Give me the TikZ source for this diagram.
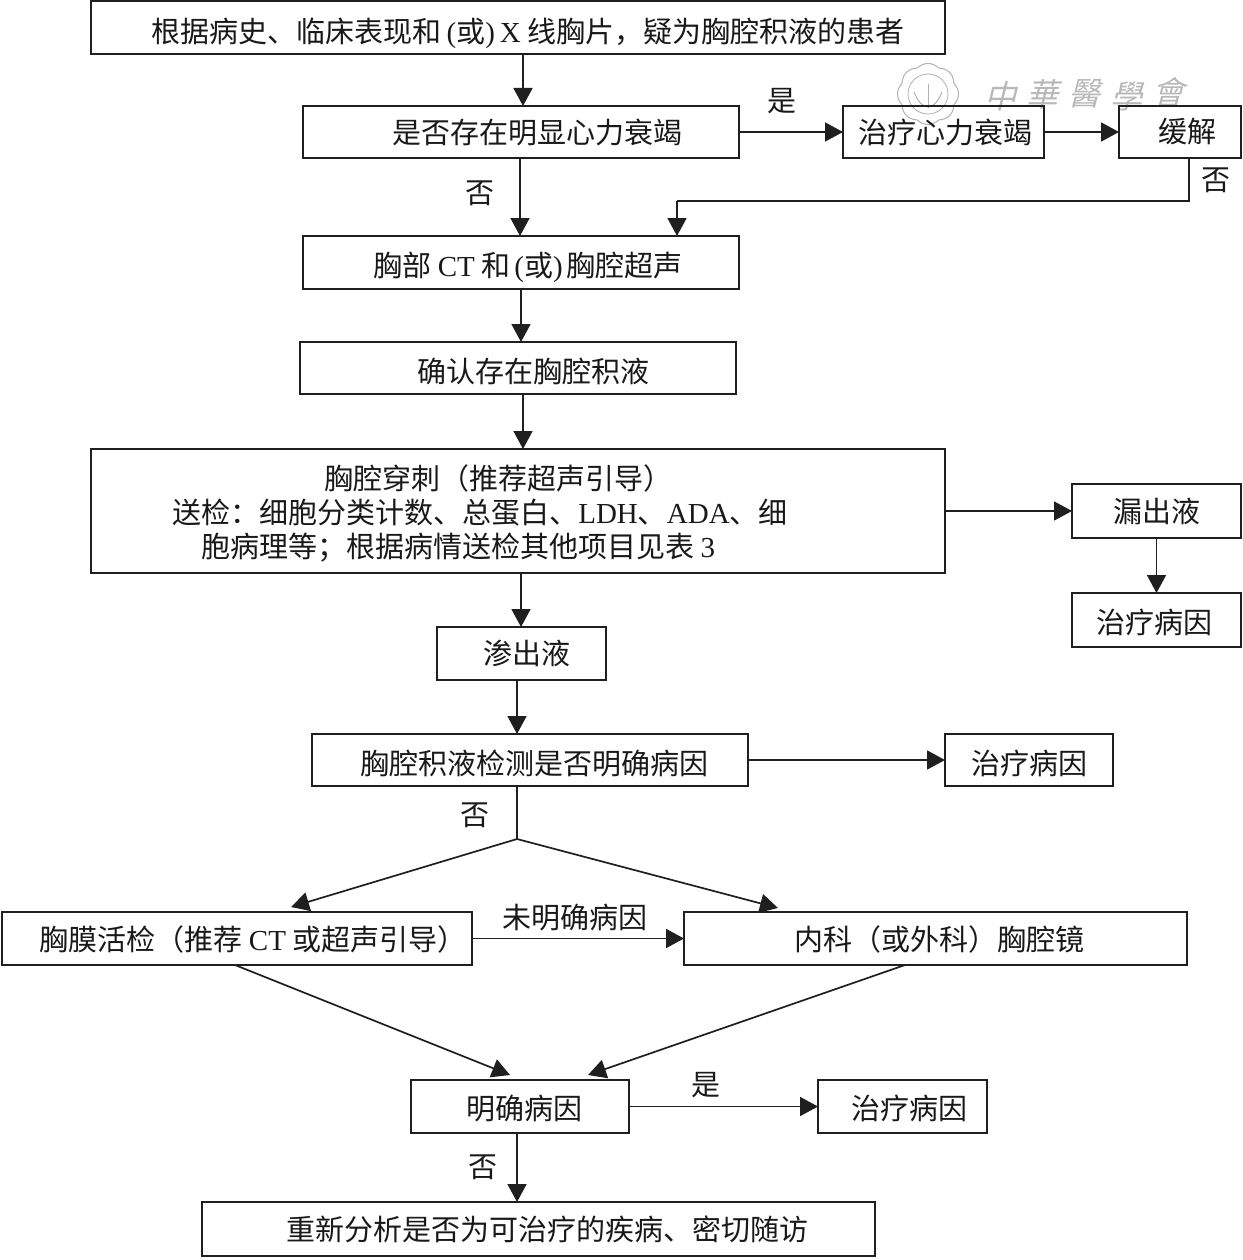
\documentclass[tikz,border=0pt]{standalone}
\usepackage{fontspec}
\setmainfont{Noto Sans CJK SC}
\newfontfamily\latf{Liberation Serif}
\newfontfamily\wmf[FakeSlant=0.25]{Noto Sans CJK SC}
\newcommand{\lat}[1]{{\latf #1}}
\usetikzlibrary{arrows.meta}
\tikzset{
  x=1pt,y=-1pt,
  every node/.style={inner sep=0pt,outer sep=0pt,font=\fontsize{29}{32}\selectfont,text=black!90},
  boxn/.style={draw=black!88,line width=1.7pt,anchor=center},
  lbl/.style={anchor=center},
  con/.style={draw=black!88,line width=1.7pt},
  arr/.style={con,-{Triangle[length=18pt,width=19pt]}},
  wm/.style={text=black!28,font=\wmf\fontsize{32}{32}\selectfont},
  wmline/.style={draw=black!30,line width=1pt}
}
% [text dy], name, x1, y1, x2, y2, text dx (doubled), text
\newcommand{\bx}[8][0]{%
  \pgfmathsetmacro{\bxw}{#5-#3}\pgfmathsetmacro{\bxh}{#6-#4}%
  \pgfmathsetmacro{\bxd}{11+#1}%
  \node[boxn,minimum width=\bxw pt,minimum height=\bxh pt] (#2) at ({(#3+#5)/2},{(#4+#6)/2}) {\hspace*{#7pt}\raisebox{-\bxd pt}[0pt][0pt]{#8}};%
}
\begin{document}
\begin{tikzpicture}
\useasboundingbox (0,0) rectangle (1242,1260);
\fill[white] (0,0) rectangle (1242,1260);
% watermark
\draw[wmline] plot[domain=0:360,samples=160,smooth cycle] ({928+(28+2.5*abs(cos(4*\x)))*cos(\x)},{94+(28+2.5*abs(cos(4*\x)))*sin(\x)});
\node[draw=black!30,line width=.8pt,circle,minimum size=40pt] (logoin) at (928,94) {};
\draw[wmline] (914,92) .. controls (922,112) and (934,112) .. (942,92);
\draw[wmline] (928,84) -- (928,108);
\node[wm,lbl] (wm1) at (1000,96) {中};
\node[wm,lbl] (wm2) at (1042,94) {華};
\node[wm,lbl] (wm3) at (1084,94) {醫};
\node[wm,lbl] (wm4) at (1126,96) {學};
\node[wm,lbl] (wm5) at (1168,92) {會};
% boxes
\bx[4.5]{top}{91}{1}{945}{54}{20}{根据病史、临床表现和\hspace{5pt}\lat{(}或\lat{)}\hspace{5pt}\lat{X} 线胸片，疑为胸腔积液的患者}
\bx[1]{hfq}{303}{106}{739}{158}{32}{是否存在明显心力衰竭}
\bx[1]{hf}{843}{106}{1044}{158}{3}{治疗心力衰竭}
\bx{rel}{1119}{106}{1241}{158}{14}{缓解}
\bx[2.5]{ct}{303}{236}{739}{289}{14}{胸部 \lat{CT} 和\hspace{4pt}\lat{(}或\lat{)}\hspace{4pt}胸腔超声}
\bx[3]{conf}{300}{342}{736}{394}{30}{确认存在胸腔积液}
\node[boxn,minimum width=854pt,minimum height=124pt] (punct) at (518,511) {};
\node[lbl] (p1) at (498,478) {胸腔穿刺（推荐超声引导）};
\node[lbl] (p2) at (480,513) {送检：细胞分类计数、总蛋白、\lat{LDH}、\lat{ADA}、细};
\node[lbl] (p3) at (458,548) {胞病理等；根据病情送检其他项目见表 \lat{3}};
\bx{leak}{1072}{484}{1241}{538}{0}{漏出液}
\bx[2]{tr1}{1072}{593}{1241}{647}{-4}{治疗病因}
\bx{exud}{437}{627}{606}{680}{10}{渗出液}
\bx[3]{det}{312}{734}{748}{786}{8}{胸腔积液检测是否明确病因}
\bx[3]{tr2}{945}{734}{1113}{786}{0}{治疗病因}
\bx[1]{bio}{2}{912}{472}{965}{32}{胸膜活检（推荐 \lat{CT} 或超声引导）}
\bx[1]{scope}{684}{912}{1187}{965}{8}{内科（或外科）胸腔镜}
\bx[2]{clear}{411}{1080}{629}{1133}{8}{明确病因}
\bx[2]{tr3}{818}{1080}{987}{1133}{14}{治疗病因}
\bx{final}{202}{1202}{875}{1256}{18}{重新分析是否为可治疗的疾病、密切随访}
% labels
\node[lbl] (l1) at (782,101) {是};
\node[lbl] (l2) at (480,193) {否};
\node[lbl] (l3) at (1216,180) {否};
\node[lbl] (l4) at (475,815) {否};
\node[lbl] (l5) at (575,918) {未明确病因};
\node[lbl] (l6) at (706,1085) {是};
\node[lbl] (l7) at (483,1167) {否};
% helper coordinates
\coordinate (xa) at (523,0);
\coordinate (xb) at (520,0);
\coordinate (xc) at (521,0);
\coordinate (xd) at (517,0);
\coordinate (xe) at (1189,0);
\coordinate (xf) at (677,0);
\coordinate (yc) at (1189,201);
\coordinate (yd) at (677,201);
\coordinate (j) at (517,839);
\coordinate (tl) at (291,907);
\coordinate (tr) at (778,908);
\coordinate (sl) at (235,965);
\coordinate (sr) at (905,965);
\coordinate (tcl) at (510,1075);
\coordinate (tcr) at (588,1075);
% connectors
\draw[arr] (top.south -| xa) -- (hfq.north -| xa);
\draw[arr] (hfq.south -| xb) -- (ct.north -| xb);
\draw[arr] (hfq.east |- hf.west) -- (hf.west);
\draw[arr] (hf.east) -- (rel.west |- hf.east);
\draw[con] (rel.south -| xe) -- (yc) -- (yd);
\draw[arr] (yd) -- (ct.north -| xf);
\draw[arr] (ct.south -| xc) -- (conf.north -| xc);
\draw[arr] (conf.south -| xa) -- (punct.north -| xa);
\draw[arr] (punct.east) -- (leak.west |- punct.east);
\draw[arr] (leak.south) -- (tr1.north -| leak.south);
\draw[arr] (punct.south -| xc) -- (exud.north -| xc);
\draw[arr] (exud.south -| xd) -- (det.north -| xd);
\draw[arr] (det.east) -- (tr2.west);
\draw[con] (det.south -| xd) -- (j);
\draw[arr] (j) -- (tl);
\draw[arr] (j) -- (tr);
\draw[arr] (bio.east) -- (scope.west);
\draw[arr] (sl) -- (tcl);
\draw[arr] (sr) -- (tcr);
\draw[arr] (clear.east) -- (tr3.west);
\draw[arr] (clear.south -| xd) -- (final.north -| xd);
\end{tikzpicture}
\end{document}
